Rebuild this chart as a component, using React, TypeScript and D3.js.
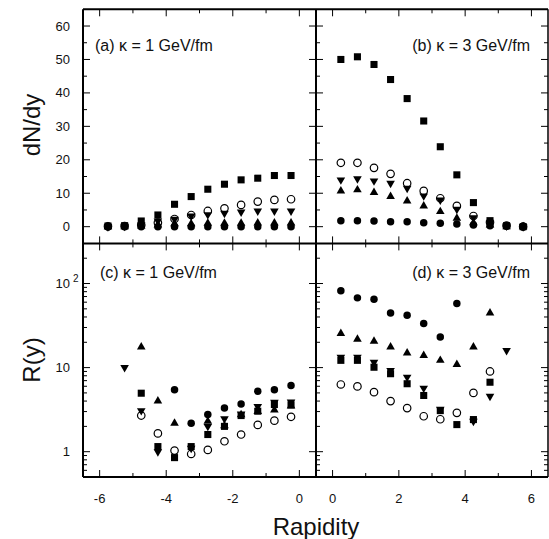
import React from "react";
import * as d3 from "d3";

// ---------- data ----------
const xA = [-5.75, -5.25, -4.75, -4.25, -3.75, -3.25, -2.75, -2.25, -1.75, -1.25, -0.75, -0.25];
const aSquare = [0.2, 0.3, 1.7, 3.5, 6.7, 9, 11.2, 12.7, 14, 14.5, 15.3, 15.3];
const aOpen = [0.1, 0.2, 0.5, 1.2, 2.3, 3.5, 4.7, 5.5, 6.5, 7.5, 8, 8.2];
const aDown = [0, 0.1, 0.5, 1.7, 2.2, 3.2, 3.6, 4, 4.4, 4.7, 4.7, 4.7];
const aUp = [0, 0, 0.2, 0.5, 0.9, 0.9, 1, 1, 1, 1.1, 1.1, 1.1];
const aCircle = [0, 0, 0, 0, 0, 0, 0, 0, 0, 0, 0, 0];

const xB = [0.25, 0.75, 1.25, 1.75, 2.25, 2.75, 3.25, 3.75, 4.25, 4.75, 5.25, 5.75];
const bSquare = [50, 50.8, 48.5, 44, 38.3, 31.6, 23.9, 15.5, 7.2, 1.8, 0.3, 0];
const bOpen = [19.1, 19.1, 17.6, 15.8, 13, 10.7, 8.5, 6.2, 3.2, 1.3, 0.3, 0];
const bDown = [14, 14.3, 13.7, 13, 11.5, 9.2, 8, 5.2, 2.7, 1, 0.2, 0];
const bUp = [10.7, 11, 10.2, 9, 7.7, 6.2, 4.5, 2.5, 1.2, 0.5, 0, 0];
const bCircle = [1.8, 1.8, 1.7, 1.5, 1.5, 1.2, 1.0, 0.8, 0.5, 0.3, 0.2, 0.1];

const xC = [-5.25, -4.75, -4.25, -3.75, -3.25, -2.75, -2.25, -1.75, -1.25, -0.75, -0.25];
const cSquare = [null, 4.96, 1.15, 0.85, 1.15, 1.6, 2.0, 2.69, 3.03, 3.64, 3.6];
const cOpen = [null, 2.69, 1.65, 1.03, 0.94, 1.05, 1.33, 1.6, 2.08, 2.34, 2.6];
const cDown = [10, 3.08, 1.0, null, 1.1, 2.0, 2.46, 2.8, 3.44, 3.87, 3.9];
const cUp = [null, 17.6, 4.0, 2.18, null, 2.3, 2.04, 2.75, 3.0, 3.14, 3.5];
const cCircle = [null, null, null, 5.45, 2.18, 2.76, 3.3, 3.7, 5.24, 5.45, 6.13];

const xD = [0.25, 0.75, 1.25, 1.75, 2.25, 2.75, 3.25, 3.75, 4.25, 4.75, 5.25];
const dSquare = [12.2, 12.2, 10.1, 8.46, 6.43, 4.66, 3.08, 2.1, 2.41, 6.7, null];
const dOpen = [6.3, 5.97, 5.1, 4.0, 3.3, 2.64, 2.43, 2.9, 5.0, 9.0, null];
const dDown = [13.3, 13.3, 11.6, 9.26, 7.7, 5.7, 3.2, null, 2.3, 4.57, 16];
const dUp = [25.4, 21.7, 20.6, 17.6, 14.9, 13.9, 12.2, 10.9, 17.6, 44.7, null];
const dCircle = [81.8, 67.5, 65.2, 44.7, 42, 33.4, 23.1, 57.9, null, null, null];

const xTicksLeft = [-6, -4, -2, 0];
const xTicksRight = [0, 2, 4, 6];
const yTicksTop = [0, 10, 20, 30, 40, 50, 60];
const yTicksLog = [1, 10, 100];
const panelLabels = ["(a) κ = 1 GeV/fm", "(b) κ = 3 GeV/fm", "(c) κ = 1 GeV/fm", "(d) κ = 3 GeV/fm"];

// ---------- layout ----------
const L = 83, M = 316, R = 548, T = 9.3, D = 243.4, B = 477;
const FONT = "'Liberation Sans', Arial, Helvetica, sans-serif";

const xLeft = d3.scaleLinear().domain([-6.5, 0.5]).range([L, M]);
const xRight = d3.scaleLinear().domain([-0.5, 6.5]).range([M, R]);
const yTop = d3.scaleLinear().domain([-5, 65]).range([D, T]);
const yBot = d3.scaleLog().domain([0.5, 300]).range([B, D]);

type Kind = "square" | "open" | "down" | "up" | "circle";
const symPath: Record<Kind, string> = {
  square: d3.symbol(d3.symbolSquare, 50)() as string,
  open: d3.symbol(d3.symbolCircle, 44)() as string,
  down: d3.symbol(d3.symbolTriangle, 32)() as string,
  up: d3.symbol(d3.symbolTriangle, 32)() as string,
  circle: d3.symbol(d3.symbolCircle, 44)() as string,
};

function Marks({ xs, series, xs_scale, ys_scale }: any) {
  const out: any[] = [];
  series.forEach(([kind, vals]: [Kind, (number | null)[]], si: number) => {
    vals.forEach((v, i) => {
      if (v === null || v === undefined) return;
      const cx = xs_scale(xs[i]);
      const cy = ys_scale(v);
      const rot = kind === "down" ? " rotate(180)" : "";
      out.push(
        <path
          key={si + "-" + i}
          d={symPath[kind]}
          transform={`translate(${cx},${cy})${rot}`}
          fill={kind === "open" ? "none" : "#000"}
          stroke={kind === "open" ? "#000" : "none"}
          strokeWidth={kind === "open" ? 1.2 : 0}
        />
      );
    });
  });
  return <g>{out}</g>;
}

export default function App() {
  const lines: any[] = [];
  const tk = (x1: number, y1: number, x2: number, y2: number, key: string, w = 1) =>
    lines.push(<line key={key} x1={x1} y1={y1} x2={x2} y2={y2} stroke="#000" strokeWidth={w} />);

  const maj = 7, mnr = 4;
  [[xLeft, [-6, -5, -4, -3, -2, -1, 0]], [xRight, [0, 1, 2, 3, 4, 5, 6]]].forEach(([sc, vals]: any, pi) => {
    vals.forEach((v: number) => {
      const isMaj = v % 2 === 0;
      const len = isMaj ? maj : mnr;
      const x = sc(v);
      tk(x, B, x, B - len, `xb${pi}${v}`);
      tk(x, T, x, T + len, `xt${pi}${v}`);
      tk(x, D, x, D - len, `xm1${pi}${v}`);
      tk(x, D, x, D + len, `xm2${pi}${v}`);
    });
  });
  for (let v = 0; v <= 60; v += 5) {
    const isMaj = v % 10 === 0;
    const len = isMaj ? maj : mnr;
    const y = yTop(v);
    tk(L, y, L + len, y, `yl${v}`);
    tk(R, y, R - len, y, `yr${v}`);
    if (isMaj) tk(M - len, y, M, y, `ymL${v}`);
    tk(M, y, M + len, y, `ymR${v}`);
  }
  const logVals: number[] = [];
  [0.1, 1, 10, 100].forEach((dec) => {
    for (let k = 1; k <= 9; k++) {
      const v = dec * k;
      if (v > 0.5 && v < 300) logVals.push(v);
    }
  });
  logVals.forEach((v, i) => {
    const isMaj = Math.abs(Math.log10(v) - Math.round(Math.log10(v))) < 1e-9;
    const len = isMaj ? maj : mnr;
    const y = yBot(v);
    tk(L, y, L + len, y, `ll${i}`);
    tk(R, y, R - len, y, `lr${i}`);
    if (isMaj) tk(M - len, y, M, y, `lmL${i}`);
    tk(M, y, M + len, y, `lmR${i}`);
  });

  const textStyle = { fontFamily: FONT, fill: "#111" };

  return (
    <svg
      width={549}
      height={539}
      style={{ position: "absolute", left: 0, top: 0, background: "#fff" }}
    >
      <rect x={0} y={0} width={549} height={539} fill="#fff" />
      <g stroke="#000" fill="none">
        <line x1={L} y1={T} x2={R} y2={T} strokeWidth={2} />
        <line x1={L} y1={B} x2={R} y2={B} strokeWidth={2} />
        <line x1={L} y1={T} x2={L} y2={B} strokeWidth={2} />
        <line x1={R} y1={T} x2={R} y2={B} strokeWidth={1.5} />
        <line x1={M} y1={T} x2={M} y2={B} strokeWidth={2} />
        <line x1={L} y1={D} x2={R} y2={D} strokeWidth={2} />
      </g>
      {lines}

      <Marks xs={xA} xs_scale={xLeft} ys_scale={yTop}
        series={[["square", aSquare], ["open", aOpen], ["down", aDown], ["up", aUp], ["circle", aCircle]]} />
      <Marks xs={xB} xs_scale={xRight} ys_scale={yTop}
        series={[["square", bSquare], ["open", bOpen], ["down", bDown], ["up", bUp], ["circle", bCircle]]} />
      <Marks xs={xC} xs_scale={xLeft} ys_scale={yBot}
        series={[["square", cSquare], ["open", cOpen], ["down", cDown], ["up", cUp], ["circle", cCircle]]} />
      <Marks xs={xD} xs_scale={xRight} ys_scale={yBot}
        series={[["square", dSquare], ["open", dOpen], ["down", dDown], ["up", dUp], ["circle", dCircle]]} />

      <g style={textStyle} fontSize={13}>
        {yTicksTop.map((v) => (
          <text key={"yt" + v} x={70} y={yTop(v)} textAnchor="end" dominantBaseline="central">{v}</text>
        ))}
        {yTicksLog.map((v) => (
          <text key={"yl" + v} x={70} y={yBot(v)} textAnchor="end" dominantBaseline="central">
            {v === 100 ? "10" : String(v)}
          </text>
        ))}
        <text x={73} y={yBot(100) - 5} fontSize={10} dominantBaseline="central">2</text>
        {xTicksLeft.map((v) => (
          <text key={"xl" + v} x={xLeft(v)} y={498} textAnchor="middle" dominantBaseline="central">{v}</text>
        ))}
        {xTicksRight.map((v) => (
          <text key={"xr" + v} x={xRight(v)} y={498} textAnchor="middle" dominantBaseline="central">{v}</text>
        ))}
      </g>

      <g style={textStyle} fontSize={16}>
        <text x={95} y={50.5}>{panelLabels[0]}</text>
        <text x={530} y={50.5} textAnchor="end">{panelLabels[1]}</text>
        <text x={100} y={278}>{panelLabels[2]}</text>
        <text x={530} y={278} textAnchor="end">{panelLabels[3]}</text>
      </g>

      <g style={textStyle} fontSize={24}>
        <text x={316} y={535} textAnchor="middle">Rapidity</text>
        <text transform={`translate(40,${125}) rotate(-90)`} textAnchor="middle">dN/dy</text>
        <text transform={`translate(40,${360}) rotate(-90)`} textAnchor="middle">R(y)</text>
      </g>
    </svg>
  );
}
